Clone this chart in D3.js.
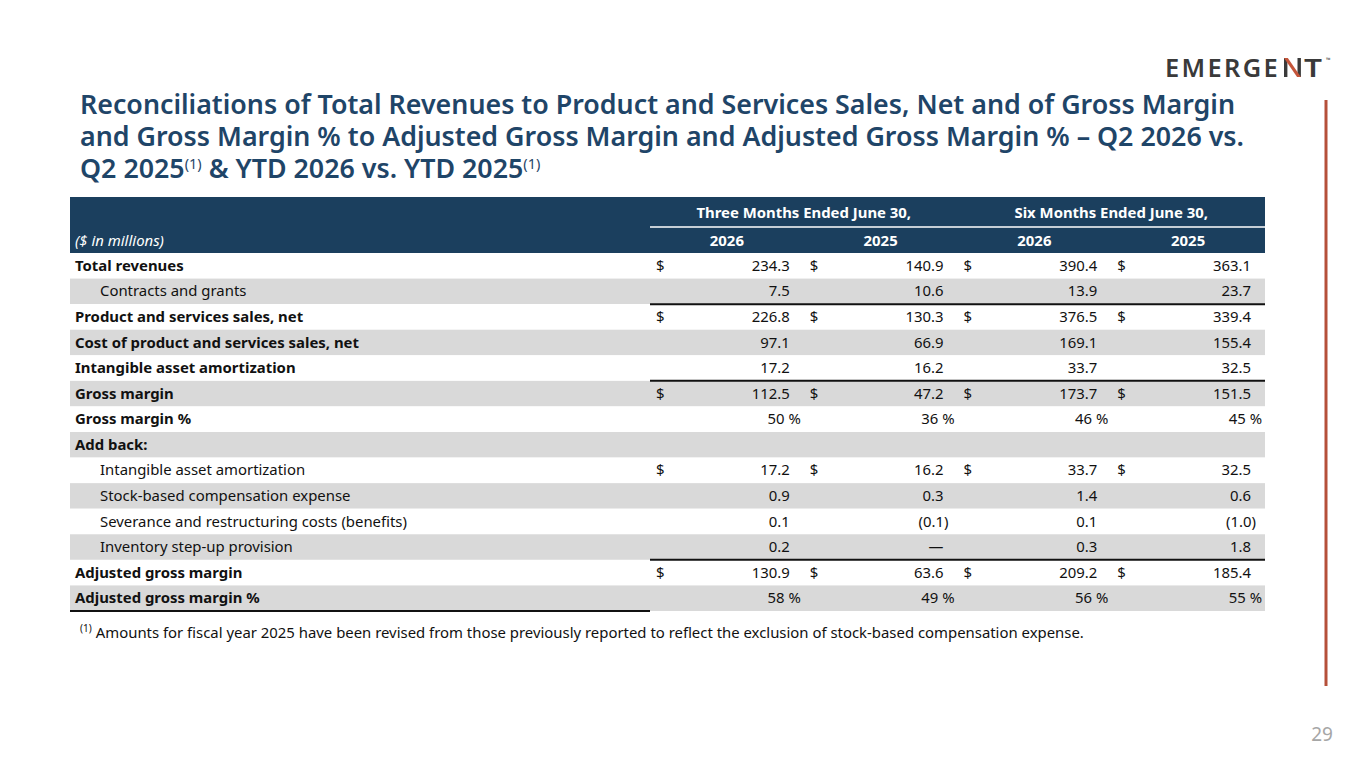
<!DOCTYPE html>
<html>
<head>
<meta charset="utf-8">
<script src="https://cdn.jsdelivr.net/npm/d3@7"></script>
<style>
  body { margin: 0; background: #fff; }
  svg { display: block; font-family: "Noto Sans", sans-serif; }
</style>
</head>
<body>
<div id="slide"></div>
<script>
// table data
var rowLabels = [
  "Total revenues",
  "Contracts and grants",
  "Product and services sales, net",
  "Cost of product and services sales, net",
  "Intangible asset amortization",
  "Gross margin",
  "Gross margin %",
  "Add back:",
  "Intangible asset amortization",
  "Stock-based compensation expense",
  "Severance and restructuring costs (benefits)",
  "Inventory step-up provision",
  "Adjusted gross margin",
  "Adjusted gross margin %"
];
var q2026  = [234.3, 7.5, 226.8, 97.1, 17.2, 112.5, 50, null, 17.2, 0.9, 0.1, 0.2, 130.9, 58];
var q2025  = [140.9, 10.6, 130.3, 66.9, 16.2, 47.2, 36, null, 16.2, 0.3, -0.1, 0, 63.6, 49];
var ytd2026 = [390.4, 13.9, 376.5, 169.1, 33.7, 173.7, 46, null, 33.7, 1.4, 0.1, 0.3, 209.2, 56];
var ytd2025 = [363.1, 23.7, 339.4, 155.4, 32.5, 151.5, 45, null, 32.5, 0.6, -1.0, 1.8, 185.4, 55];

var columnYears = ["2026", "2025", "2026", "2025"];
var groupLabels = ["Three Months Ended June 30,", "Six Months Ended June 30,"];

var indentRows = [1, 8, 9, 10, 11];
var dollarRows = [0, 2, 5, 8, 12];
var percentRows = [6, 13];
var ruleAfterRows = [1, 4, 11];

var titleLines = [
  "Reconciliations of Total Revenues to Product and Services Sales, Net and of Gross Margin",
  "and Gross Margin % to Adjusted Gross Margin and Adjusted Gross Margin % \u2013 Q2 2026 vs.",
  "Q2 2025|(1)| & YTD 2026 vs. YTD 2025|(1)"
];
var footnote = "Amounts for fiscal year 2025 have been revised from those previously reported to reflect the exclusion of stock-based compensation expense.";

var W = 1365, H = 768;
var navy = "#1b3f5e", gray = "#d9d9d9", titleColor = "#1f4568";
var fs = 14.9, titleFs = 26.8;

var svg = d3.select("#slide").append("svg")
  .attr("width", W).attr("height", H);

// logo
var logo = svg.append("g").attr("transform", "translate(1165,77)");
logo.append("text")
  .attr("x", 0).attr("y", 0)
  .attr("font-size", 26).attr("font-weight", 600)
  .attr("letter-spacing", 2.4)
  .attr("fill", "#3a3a3a")
  .attr("textLength", 115).attr("lengthAdjust", "spacingAndGlyphs")
  .text("EMERGE");
var nx = 119;
logo.append("rect").attr("x", nx).attr("y", -19).attr("width", 3.4).attr("height", 19).attr("fill", "#3a3a3a");
logo.append("rect").attr("x", nx + 13.5).attr("y", -19).attr("width", 3.4).attr("height", 19).attr("fill", "#3a3a3a");
logo.append("path")
  .attr("d", "M" + nx + ",-19 L" + (nx + 3.8) + ",-19 L" + (nx + 16.9) + ",0 L" + (nx + 13.1) + ",0 Z")
  .attr("fill", "#c4553a");
logo.append("text")
  .attr("x", 139).attr("y", 0)
  .attr("font-size", 26).attr("font-weight", 600)
  .attr("fill", "#3a3a3a")
  .attr("textLength", 18).attr("lengthAdjust", "spacingAndGlyphs")
  .text("T");
logo.append("text").attr("x", 161).attr("y", -15).attr("font-size", 6).attr("fill", "#3a3a3a").text("\u2122");

// title
var title = svg.append("text")
  .attr("fill", titleColor)
  .attr("font-size", titleFs)
  .attr("font-weight", 600);
titleLines.forEach(function(line, i) {
  var parts = line.split("|");
  parts.forEach(function(p, j) {
    var t = title.append("tspan").text(p);
    if (j === 0) t.attr("x", 80).attr("y", 114 + i * 32);
    if (p === "(1)") t.attr("font-size", 14.5).attr("dy", -9).attr("font-weight", 400);
    else if (j > 0) t.attr("dy", 9).attr("font-size", titleFs);
  });
});

// right rule and page number
svg.append("line")
  .attr("x1", 1326).attr("x2", 1326).attr("y1", 100).attr("y2", 686)
  .attr("stroke", "#b5503a").attr("stroke-width", 3);
svg.append("text")
  .attr("x", 1322).attr("y", 741)
  .attr("text-anchor", "middle")
  .attr("font-size", 19)
  .attr("fill", "#a6a6a6")
  .text("29");

// scales
var tableLeft = 70, tableRight = 1265, valueLeft = 650;
var y = d3.scaleBand()
  .domain(d3.range(rowLabels.length))
  .range([253, 611]);
var x = d3.scaleBand()
  .domain(d3.range(columnYears.length))
  .range([valueLeft, tableRight]);
var xGroup = d3.scaleBand()
  .domain(d3.range(groupLabels.length))
  .range([valueLeft, tableRight]);

// header
svg.append("rect")
  .attr("x", tableLeft).attr("y", 197)
  .attr("width", tableRight - tableLeft).attr("height", 56)
  .attr("fill", navy);
svg.append("line")
  .attr("x1", valueLeft).attr("x2", tableRight)
  .attr("y1", 227).attr("y2", 227)
  .attr("stroke", "#fff").attr("stroke-width", 1.5);

svg.selectAll(".group")
  .data(groupLabels)
  .enter().append("text")
  .attr("x", function(d, i) { return xGroup(i) + xGroup.bandwidth() / 2; })
  .attr("y", 218)
  .attr("text-anchor", "middle")
  .attr("font-size", fs).attr("font-weight", 700)
  .attr("fill", "#fff")
  .text(function(d) { return d; });

svg.selectAll(".year")
  .data(columnYears)
  .enter().append("text")
  .attr("x", function(d, i) { return x(i) + x.bandwidth() / 2; })
  .attr("y", 246)
  .attr("text-anchor", "middle")
  .attr("font-size", fs).attr("font-weight", 700)
  .attr("fill", "#fff")
  .text(function(d) { return d; });

svg.append("text")
  .attr("x", 75).attr("y", 246)
  .attr("font-size", fs).attr("font-style", "italic")
  .attr("fill", "#fff")
  .text("($ in millions)");

// row shading
svg.selectAll(".band")
  .data(rowLabels)
  .enter().append("rect")
  .attr("x", tableLeft)
  .attr("y", function(d, i) { return y(i); })
  .attr("width", tableRight - tableLeft)
  .attr("height", y.bandwidth())
  .attr("fill", function(d, i) { return i % 2 ? gray : "#fff"; });

// row labels
svg.selectAll(".label")
  .data(rowLabels)
  .enter().append("text")
  .attr("x", function(d, i) { return indentRows.indexOf(i) >= 0 ? 100 : 75; })
  .attr("y", function(d, i) { return y(i) + y.bandwidth() / 2 + 5; })
  .attr("font-size", fs)
  .attr("font-weight", function(d, i) { return indentRows.indexOf(i) >= 0 ? 400 : 700; })
  .attr("fill", "#111")
  .text(function(d) { return d; });

// values
function fmt(v, i) {
  if (v === null) return "";
  if (percentRows.indexOf(i) >= 0) return v + " %";
  if (v === 0) return "\u2014";
  if (v < 0) return "(" + Math.abs(v).toFixed(1) + ")";
  return v.toFixed(1);
}

[q2026, q2025, ytd2026, ytd2025].forEach(function(series, c) {
  var col = svg.append("g");
  col.selectAll("text.val")
    .data(series)
    .enter().append("text")
    .attr("class", "val")
    .attr("x", function(d, i) {
      var end = x(c) + x.bandwidth();
      if (percentRows.indexOf(i) >= 0) return end - 3;
      if (d !== null && d < 0) return end - 9;
      return end - 14;
    })
    .attr("y", function(d, i) { return y(i) + y.bandwidth() / 2 + 5; })
    .attr("text-anchor", "end")
    .attr("font-size", fs)
    .attr("fill", "#111")
    .text(function(d, i) { return fmt(d, i); });

  col.selectAll("text.dollar")
    .data(dollarRows)
    .enter().append("text")
    .attr("class", "dollar")
    .attr("x", x(c) + 6)
    .attr("y", function(r) { return y(r) + y.bandwidth() / 2 + 5; })
    .attr("font-size", fs)
    .attr("fill", "#111")
    .text("$");
});

// subtotal rules
svg.selectAll(".rule")
  .data(ruleAfterRows)
  .enter().append("line")
  .attr("x1", valueLeft).attr("x2", tableRight)
  .attr("y1", function(r) { return y(r) + y.bandwidth(); })
  .attr("y2", function(r) { return y(r) + y.bandwidth(); })
  .attr("stroke", "#111").attr("stroke-width", 2);
svg.append("line")
  .attr("x1", tableLeft).attr("x2", valueLeft)
  .attr("y1", y(rowLabels.length - 1) + y.bandwidth())
  .attr("y2", y(rowLabels.length - 1) + y.bandwidth())
  .attr("stroke", "#111").attr("stroke-width", 2);

// footnote
var fn = svg.append("text")
  .attr("x", 80).attr("y", 638)
  .attr("font-size", fs)
  .attr("fill", "#111");
fn.append("tspan").attr("font-size", 10).attr("dy", -6).text("(1)");
fn.append("tspan").attr("dy", 6).attr("dx", 4).text(footnote);
</script>
</body>
</html>
